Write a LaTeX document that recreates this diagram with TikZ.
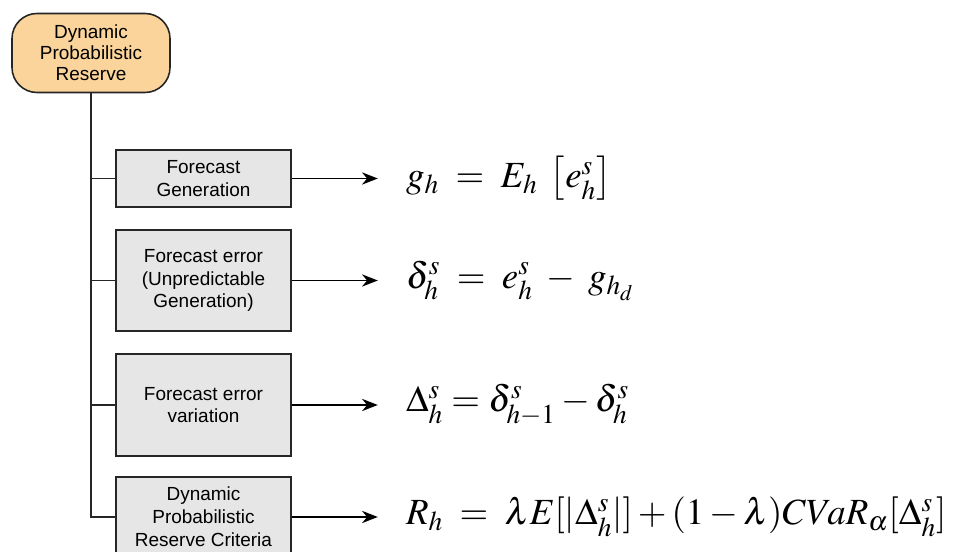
\documentclass[tikz,border=0pt]{standalone}
\usepackage{amsmath}
\usepackage{mathptmx}
\usepackage[no-math]{fontspec}
\setmainfont{Liberation Sans}
\usetikzlibrary{positioning,arrows.meta}
\definecolor{boxgray}{RGB}{230,230,230}
\definecolor{resorange}{RGB}{250,212,155}

\begin{document}
\begin{tikzpicture}[
    topbox/.style={draw=black!85,line width=0.9pt,fill=resorange,rounded corners=0.5cm,
        minimum width=3.16cm,minimum height=1.58cm,align=center,
        font=\fontsize{10.8}{11.9}\selectfont},
    stepbox/.style={draw=black!85,line width=0.9pt,fill=boxgray,minimum width=3.5cm,
        align=center,font=\fontsize{10.8}{13}\selectfont},
    eqn/.style={anchor=west,inner xsep=0.56cm,inner ysep=0pt,font=\fontsize{21}{25}\selectfont},
    arr/.style={line width=0.9pt,-{Stealth[length=9pt,width=7pt]}},
    trunk/.style={line width=1pt,black!85}
  ]

    % Rahmen des Bildes
    \useasboundingbox (0,0) rectangle (19.1,-11.04);

    % Wurzelknoten
    \node[topbox] (root) at (1.82,-1.06) {Dynamic\\Probabilistic\\Reserve};

    % Kaesten der vier Schritte
    \node[stepbox,minimum height=1.14cm] (gen) at (4.07,-3.57) {Forecast\\Generation};
    \node[stepbox,minimum height=2.02cm] (err) at (4.07,-5.61) {Forecast error\\(Unpredictable\\Generation)};
    \node[stepbox,minimum height=2.04cm] (var) at (4.07,-8.1) {Forecast error\\variation};
    \node[stepbox,minimum height=1.6cm] (crit) at (4.07,-10.34) {Dynamic\\Probabilistic\\Reserve Criteria};

    % Formeln rechts
    \node[eqn,right=1.72cm of gen] (eqgen) {$g_h \;=\; E_h\;\left[e^s_h\right]$};
    \node[eqn,right=1.72cm of err] (eqerr) {$\delta^s_h \;=\; e^s_h \;-\; g_{h_d}$};
    \node[eqn,right=1.72cm of var] (eqvar) {$\Delta^s_h = \delta^s_{h-1} - \delta^s_h$};
    \node[eqn,right=1.72cm of crit] (eqcrit) {$R_h \;=\; \lambda E[|\Delta^s_h|] + (1-\lambda)CVaR_\alpha[\Delta^s_h]$};

    % Baumlinien
    \draw[trunk] (root.south) |- (gen.west);
    \draw[trunk] (root.south) |- (err.west);
    \draw[trunk] (root.south) |- (var.west);
    \draw[trunk] (root.south) |- (crit.west);

    % Pfeile zu den Formeln
    \draw[arr] (gen) -- (eqgen);
    \draw[arr] (err) -- (eqerr);
    \draw[arr] (var) -- (eqvar);
    \draw[arr] (crit) -- (eqcrit);

\end{tikzpicture}
\end{document}
